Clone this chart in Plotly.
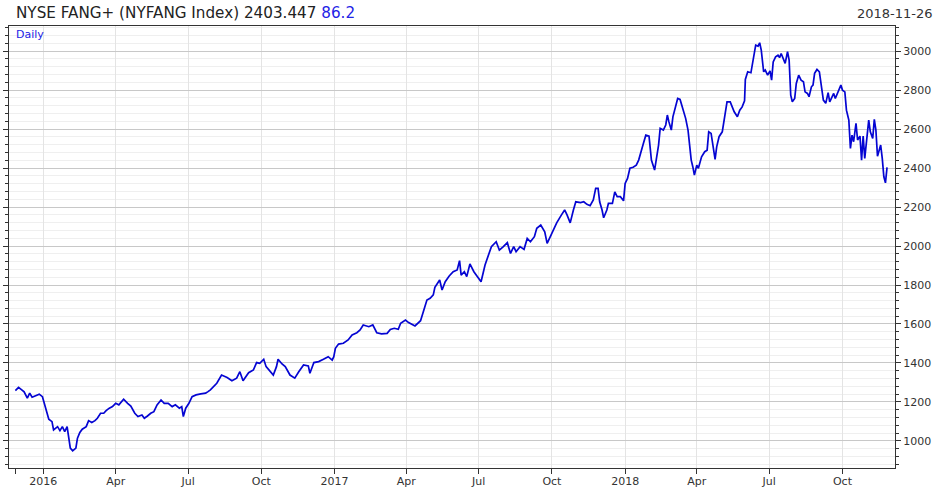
import pandas as pd
import plotly.graph_objects as go

# ---- data ----
start_date = "2016-01-01"
day_offsets = [
    -35, -31, -27, -24, -20, -17, -14, -10, -5, -1, 3, 7, 11, 13, 18, 21, 24, 27, 30, 32,
    34, 37, 41, 43, 46, 49, 54, 57, 61, 65, 68, 72, 76, 79, 83, 87, 91, 95, 101, 106,
    110, 115, 119, 124, 127, 131, 135, 139, 143, 148, 152, 157, 162, 166, 171, 174, 176, 179, 183, 187,
    192, 198, 204, 207, 210, 218, 224, 231, 237, 243, 247, 251, 258, 264, 268, 272, 277, 280, 285, 289,
    293, 295, 300, 304, 310, 316, 321, 327, 333, 335, 340, 346, 352, 358, 363, 365, 367, 371, 377, 383,
    388, 394, 398, 402, 409, 414, 419, 425, 432, 436, 441, 446, 449, 455, 459, 463, 467, 474, 478, 482,
    486, 490, 492, 498, 501, 505, 510, 515, 520, 523, 525, 529, 532, 536, 541, 546, 550, 555, 559, 563,
    569, 573, 578, 583, 587, 591, 594, 599, 604, 608, 612, 617, 620, 625, 630, 633, 637, 641, 645, 651,
    655, 658, 662, 666, 669, 675, 679, 683, 687, 691, 694, 697, 699, 702, 704, 708, 710, 715, 718, 721,
    725, 729, 731, 734, 737, 741, 745, 748, 751, 754, 757, 761, 764, 766, 768, 770, 773, 775, 779, 782,
    784, 786, 789, 791, 794, 797, 800, 803, 807, 810, 812, 814, 816, 818, 821, 823, 827, 831, 834, 836,
    839, 842, 844, 846, 849, 853, 856, 859, 863, 866, 868, 872, 875, 878, 881, 882, 885, 889, 892, 895,
    898, 900, 902, 905, 907, 910, 913, 915, 917, 920, 923, 925, 927, 930, 932, 935, 937, 939, 941, 944,
    946, 949, 952, 955, 957, 960, 962, 965, 967, 969, 972, 975, 978, 980, 983, 986, 988, 991, 993, 995,
    999, 1002, 1004, 1007, 1009, 1012, 1014, 1016, 1018, 1021, 1023, 1026, 1028, 1030, 1032, 1034, 1037, 1039, 1042, 1044,
    1046, 1048, 1050, 1052, 1054, 1056, 1058, 1060,
]
values = [
    1258, 1275, 1262, 1252, 1219, 1245, 1224, 1230, 1240, 1227, 1168, 1111, 1099, 1056, 1073, 1053, 1073, 1048, 1073, 1022,
    963, 949, 963, 1014, 1043, 1060, 1073, 1104, 1094, 1104, 1116, 1142, 1142, 1155, 1168, 1176, 1193, 1185, 1214, 1193,
    1179, 1142, 1125, 1133, 1116, 1128, 1142, 1150, 1185, 1210, 1193, 1193, 1176, 1185, 1168, 1176, 1125, 1168, 1193, 1227,
    1236, 1241, 1245, 1253, 1262, 1296, 1338, 1325, 1309, 1322, 1355, 1309, 1350, 1364, 1402, 1398, 1419, 1381, 1355, 1338,
    1381, 1419, 1395, 1381, 1338, 1322, 1355, 1390, 1385, 1347, 1402, 1407, 1419, 1432, 1415, 1432, 1475, 1497, 1501, 1518,
    1544, 1555, 1569, 1595, 1586, 1595, 1555, 1549, 1552, 1572, 1578, 1573, 1604, 1620, 1607, 1600, 1590, 1617, 1672, 1723,
    1732, 1749, 1788, 1826, 1774, 1817, 1846, 1868, 1877, 1925, 1851, 1868, 1843, 1908, 1868, 1843, 1817, 1903, 1945, 1997,
    2022, 1979, 1997, 2017, 1962, 1997, 1971, 1997, 1983, 2039, 2022, 2048, 2091, 2108, 2073, 2014, 2048, 2082, 2119, 2160,
    2185, 2160, 2119, 2185, 2227, 2223, 2227, 2214, 2207, 2236, 2296, 2296, 2227, 2185, 2145, 2185, 2219, 2219, 2278, 2253,
    2253, 2232, 2321, 2347, 2399, 2404, 2415, 2441, 2492, 2527, 2569, 2564, 2441, 2415, 2390, 2441, 2518, 2604, 2595, 2621,
    2672, 2637, 2595, 2663, 2706, 2757, 2752, 2714, 2655, 2595, 2518, 2441, 2407, 2364, 2415, 2399, 2458, 2484, 2492, 2586,
    2578, 2509, 2445, 2509, 2561, 2586, 2655, 2740, 2740, 2706, 2689, 2663, 2697, 2714, 2745, 2855, 2894, 2889, 2954, 3031,
    3026, 3043, 3005, 2894, 2903, 2877, 2899, 2851, 2945, 2971, 2979, 2967, 2988, 2962, 2937, 2997, 2954, 2774, 2740, 2757,
    2834, 2877, 2851, 2843, 2791, 2783, 2766, 2817, 2826, 2886, 2906, 2894, 2808, 2749, 2732, 2787, 2740, 2766, 2783, 2757,
    2800, 2826, 2800, 2791, 2697, 2646, 2501, 2569, 2535, 2629, 2544, 2564, 2441, 2564, 2450, 2527, 2646, 2586, 2552, 2650,
    2595, 2461, 2492, 2518, 2450, 2355, 2324, 2403.447,
]
tick_dates = ["2016-01-01", "2016-04-01", "2016-07-01", "2016-10-01",
              "2017-01-01", "2017-04-01", "2017-07-01", "2017-10-01",
              "2018-01-01", "2018-04-01", "2018-07-01", "2018-10-01"]
tick_labels = ["2016", "Apr", "Jul", "Oct", "2017", "Apr", "Jul", "Oct",
               "2018", "Apr", "Jul", "Oct"]
title_text = "NYSE FANG+ (NYFANG Index) 2403.447"
title_change = "86.2"
as_of = "2018-11-26"
x_range = ["2015-11-19", "2018-12-06"]
y_range = [861, 3129]

dates = pd.Timestamp(start_date) + pd.to_timedelta(day_offsets, unit="D")

FONT = "DejaVu Sans"
fig = go.Figure()
fig.add_trace(go.Scatter(
    x=dates, y=values, mode="lines",
    line=dict(color="#0505d2", width=1.7),
    hoverinfo="skip", showlegend=False,
))

fig.update_layout(
    width=939, height=491,
    margin=dict(l=9, r=44, t=26, b=23, autoexpand=False),
    paper_bgcolor="white", plot_bgcolor="white",
    font=dict(family=FONT, size=11, color="#333333"),
    xaxis=dict(
        type="date", range=x_range, automargin=False,
        tickmode="array", tickvals=tick_dates, ticktext=tick_labels,
        ticks="outside", ticklen=5, tickcolor="#333333", ticklabelstandoff=-2,
        showgrid=True, gridcolor="#e4e4e4", gridwidth=1,
        showline=True, linecolor="#333333", linewidth=1, mirror=True,
        minor=dict(tickmode="array", tickvals=[dates[0]], ticks="outside",
                   ticklen=5, tickcolor="#333333", showgrid=False),
        tickfont=dict(family=FONT, size=11, color="#333333"),
        zeroline=False, fixedrange=True,
    ),
    yaxis=dict(
        side="right", range=y_range, automargin=False,
        tickmode="linear", tick0=0, dtick=200,
        ticks="outside", ticklen=5, tickcolor="#333333",
        showgrid=True, gridcolor="#c8c8c8", gridwidth=1,
        minor=dict(dtick=40, tick0=0, showgrid=True, gridcolor="#efefef",
                   ticks="outside", ticklen=3, tickcolor="#333333"),
        showline=True, linecolor="#333333", linewidth=1, mirror="ticks",
        tickfont=dict(family=FONT, size=11, color="#333333"),
        zeroline=False, fixedrange=True,
    ),
    annotations=[
        dict(text=f"{title_text} <span style='color:#2323e6'>{title_change}</span>",
             xref="paper", yref="paper", x=0, y=1, xanchor="left", yanchor="bottom",
             xshift=5, yshift=2, showarrow=False,
             font=dict(family=FONT, size=15.2, color="#222222")),
        dict(text=as_of, xref="paper", yref="paper", x=1, y=1,
             xanchor="right", yanchor="bottom", xshift=40, yshift=3, showarrow=False,
             font=dict(family=FONT, size=13, color="#333333")),
        dict(text="Daily", xref="paper", yref="paper", x=0, y=1,
             xanchor="left", yanchor="top", xshift=5, yshift=0, showarrow=False,
             font=dict(family=FONT, size=11, color="#2323e6")),
    ],
)

fig.write_html(
    "out.html",
    config={"displayModeBar": False},
    post_script="document.body.style.margin='0';document.body.style.overflow='hidden';",
)
